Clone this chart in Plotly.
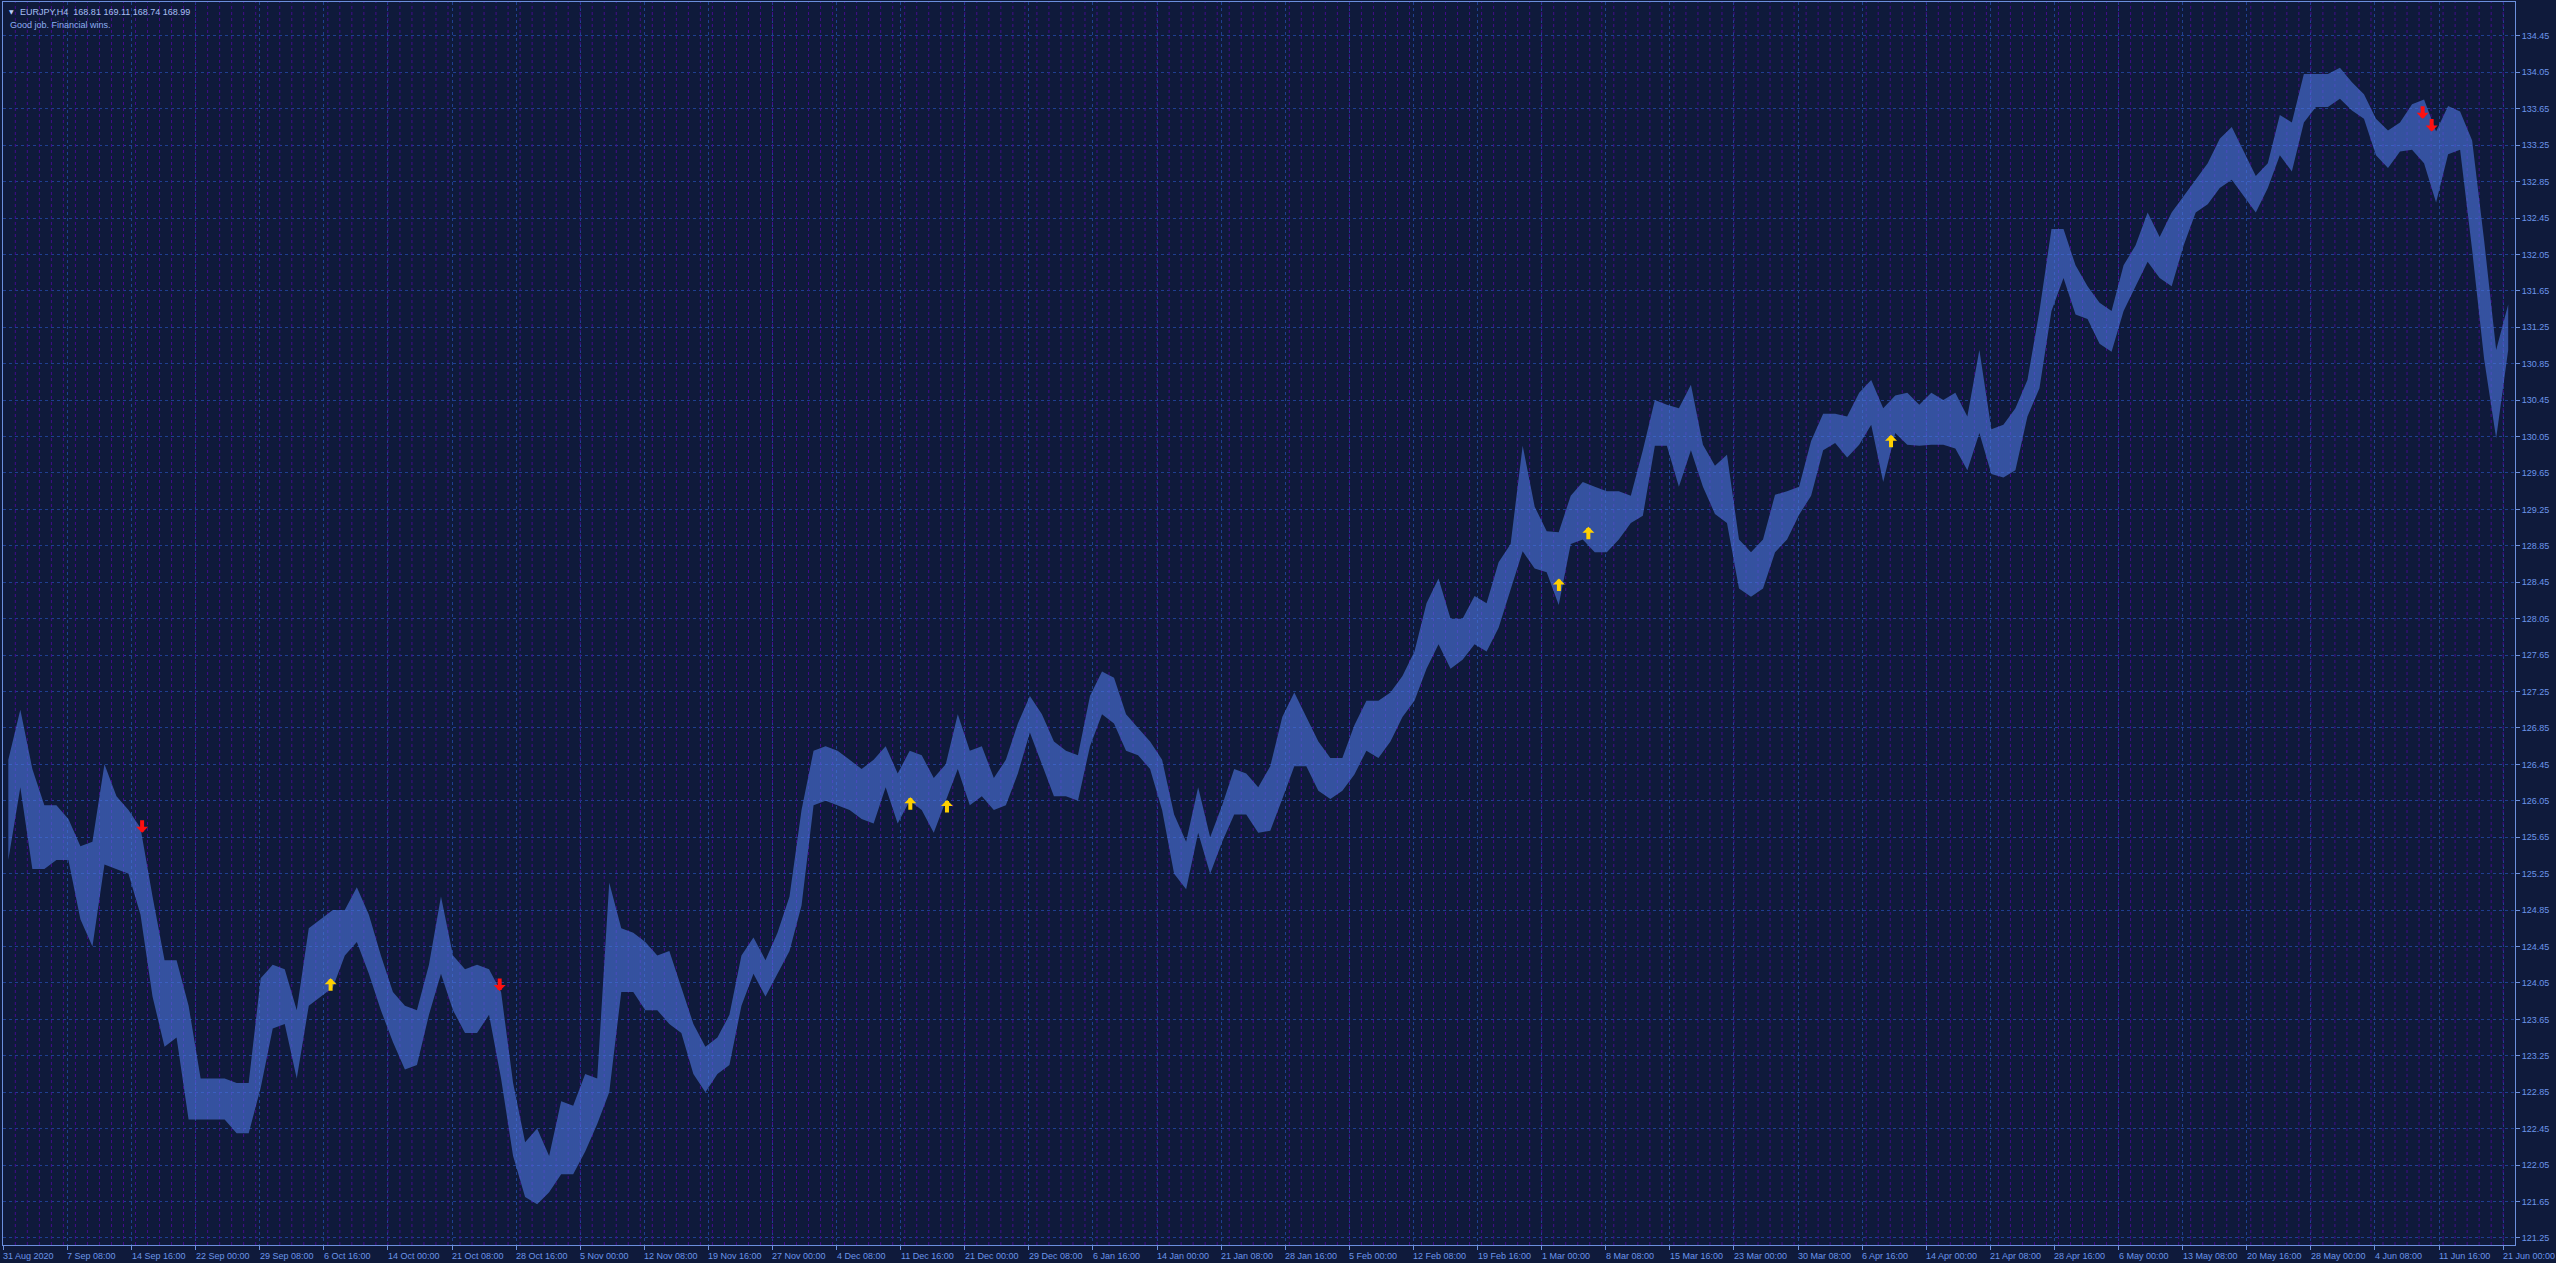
import plotly.graph_objects as go

# ---------------- data (EURJPY H4, read per trading day: high / low) ----------------
day_high = [
    126.5, 127.05, 126.4, 126.0, 126.0, 125.85, 125.55, 125.6, 126.45, 126.1,
    125.95, 125.75, 125.0, 124.3, 124.3, 123.8, 123.0, 123.0, 123.0, 122.95,
    122.95, 124.1, 124.25, 124.2, 123.75, 124.65, 124.75, 124.85, 124.85, 125.1,
    124.8, 124.35, 123.95, 123.8, 123.75, 124.25, 125.0, 124.35, 124.2, 124.25,
    124.2, 123.95, 122.95, 122.3, 122.45, 122.15, 122.75, 122.7, 123.05, 123.0,
    125.15, 124.65, 124.6, 124.5, 124.35, 124.4, 124.0, 123.6, 123.35, 123.45,
    123.7, 124.35, 124.55, 124.3, 124.6, 125.0, 125.95, 126.6, 126.65, 126.6,
    126.5, 126.4, 126.5, 126.65, 126.35, 126.6, 126.55, 126.3, 126.45, 127.0,
    126.6, 126.65, 126.3, 126.5, 126.9, 127.2, 127.0, 126.7, 126.6, 126.55,
    127.2, 127.47, 127.4, 127.0, 126.85, 126.7, 126.5, 125.9, 125.6, 126.2,
    125.65, 126.0, 126.4, 126.35, 126.2, 126.43, 126.97, 127.24, 126.97, 126.7,
    126.52, 126.52, 126.88, 127.15, 127.15, 127.24, 127.42, 127.69, 128.22, 128.49,
    128.05, 128.05, 128.3, 128.22, 128.67, 128.87, 129.95, 129.28, 129.01, 129.0,
    129.4, 129.55, 129.5, 129.45, 129.45, 129.4, 129.9, 130.45, 130.4, 130.36,
    130.62, 129.96, 129.73, 129.85, 128.92, 128.78, 128.92, 129.41, 129.45, 129.5,
    130.0, 130.3, 130.3, 130.27, 130.53, 130.67, 130.36, 130.5, 130.53, 130.4,
    130.53, 130.45, 130.53, 130.27, 131.0, 130.13, 130.18, 130.36, 130.67, 131.43,
    132.33, 132.33, 131.93, 131.7, 131.52, 131.43, 131.93, 132.15, 132.51, 132.24,
    132.51, 132.69, 132.87, 133.05, 133.32, 133.45, 133.18, 132.91, 133.05, 133.58,
    133.5, 134.03, 134.03, 134.03, 134.1, 133.94, 133.81, 133.54, 133.41, 133.5,
    133.7, 133.75, 133.4, 133.68, 133.62, 133.3, 132.2, 131.0, 131.5,
]
day_low = [
    125.4, 126.2, 125.3, 125.3, 125.4, 125.4, 124.75, 124.45, 125.35, 125.3,
    125.25, 124.8, 123.9, 123.35, 123.45, 122.55, 122.55, 122.55, 122.55, 122.4,
    122.4, 122.9, 123.55, 123.6, 123.0, 123.8, 123.9, 124.0, 124.35, 124.5,
    124.15, 123.75, 123.4, 123.1, 123.15, 123.7, 124.15, 123.75, 123.5, 123.5,
    123.7, 123.0, 122.15, 121.7, 121.62, 121.75, 121.95, 121.95, 122.2, 122.5,
    122.85, 123.95, 123.95, 123.75, 123.75, 123.6, 123.5, 123.05, 122.85, 123.05,
    123.15, 123.8, 124.15, 123.9, 124.15, 124.4, 124.9, 126.0, 126.05, 126.0,
    125.95, 125.85, 125.8, 126.2, 125.8, 126.05, 125.95, 125.7, 126.05, 126.4,
    126.0, 126.1, 125.95, 126.0, 126.35, 126.8, 126.45, 126.1, 126.1, 126.05,
    126.65, 127.0, 126.9, 126.6, 126.55, 126.4, 125.95, 125.25, 125.08, 125.7,
    125.25, 125.6, 125.9, 125.9, 125.7, 125.72, 126.07, 126.43, 126.43, 126.16,
    126.07, 126.16, 126.34, 126.6, 126.52, 126.7, 126.97, 127.15, 127.5, 127.77,
    127.5, 127.6, 127.77, 127.69, 127.95, 128.38, 128.79, 128.6, 128.56, 128.2,
    128.87, 128.92, 128.78, 128.78, 128.92, 129.1, 129.18, 129.95, 129.95, 129.5,
    129.9, 129.5, 129.2, 129.1, 128.38, 128.29, 128.38, 128.78, 128.92, 129.19,
    129.4, 129.9, 129.98, 129.82, 129.96, 130.18, 129.55, 130.09, 129.96, 129.95,
    129.96, 129.96, 129.92, 129.68, 130.09, 129.64, 129.6, 129.68, 130.27, 130.58,
    131.43, 131.79, 131.39, 131.34, 131.07, 130.98, 131.43, 131.7, 131.97, 131.79,
    131.7, 132.15, 132.51, 132.6, 132.78, 132.87, 132.69, 132.51, 132.78, 133.14,
    132.96, 133.5, 133.67, 133.67, 133.76, 133.63, 133.54, 133.14, 133.0, 133.18,
    133.2, 133.05, 132.62, 133.15, 133.2, 132.1, 130.9, 130.03, 131.0,
]
BARS_PER_DAY = 6

time_labels = [
    "31 Aug 2020", "7 Sep 08:00", "14 Sep 16:00", "22 Sep 00:00", "29 Sep 08:00",
    "6 Oct 16:00", "14 Oct 00:00", "21 Oct 08:00", "28 Oct 16:00", "5 Nov 00:00",
    "12 Nov 08:00", "19 Nov 16:00", "27 Nov 00:00", "4 Dec 08:00", "11 Dec 16:00",
    "21 Dec 00:00", "29 Dec 08:00", "6 Jan 16:00", "14 Jan 00:00", "21 Jan 08:00",
    "28 Jan 16:00", "5 Feb 00:00", "12 Feb 08:00", "19 Feb 16:00", "1 Mar 00:00",
    "8 Mar 08:00", "15 Mar 16:00", "23 Mar 00:00", "30 Mar 08:00", "6 Apr 16:00",
    "14 Apr 00:00", "21 Apr 08:00", "28 Apr 16:00", "6 May 00:00", "13 May 08:00",
    "20 May 16:00", "28 May 00:00", "4 Jun 08:00", "11 Jun 16:00", "21 Jun 00:00",
]
BARS_PER_LABEL = 32

price_ticks = [
    121.25, 121.65, 122.05, 122.45, 122.85, 123.25, 123.65, 124.05, 124.45,
    124.85, 125.25, 125.65, 126.05, 126.45, 126.85, 127.25, 127.65, 128.05,
    128.45, 128.85, 129.25, 129.65, 130.05, 130.45, 130.85, 131.25, 131.65,
    132.05, 132.45, 132.85, 133.25, 133.65, 134.05, 134.45,
]

# signal arrows (bar index, price at arrow tip)
up_bar = [163.4, 452.8, 471.1, 776.6, 791.3, 942.4]
up_price = [124.10, 126.09, 126.06, 128.49, 129.06, 130.07]
down_bar = [69.3, 247.8, 1207.8, 1212.3]
down_price = [125.70, 123.96, 133.54, 133.40]

header_line1 = "EURJPY,H4\u00a0\u00a0168.81 169.11 168.74 168.99"
header_line2 = "Good job. Financial wins."

# ---------------- style ----------------
BG = "#0f1a3b"
FRAME = "#6b8fdc"
GRID = "#1f3f8f"
SEP = "#450c8c"
BAR = "#4d76e2"
TXT = "#6b95ea"
FONT = "Liberation Sans"

W, H = 2556, 1263
X_MIN, X_MAX = -0.15, 1253.9
Y_MIN, Y_MAX = 121.172, 134.822

n_days = len(day_high)
x_day = [d * BARS_PER_DAY + (BARS_PER_DAY - 1) / 2 for d in range(n_days)]

fig = go.Figure()

# daily period separators (purple dashed)
sep_x, sep_y = [], []
for d in range(1, n_days):
    xs = d * BARS_PER_DAY
    sep_x += [xs, xs, None]
    sep_y += [Y_MIN, Y_MAX, None]
fig.add_trace(go.Scatter(
    x=sep_x, y=sep_y, mode="lines",
    line=dict(color=SEP, width=1, dash="3px,3px"),
    hoverinfo="skip", showlegend=False,
))

# price range band (daily low -> high), striped like dense H4 bars
fig.add_trace(go.Scatter(
    x=x_day, y=day_low, mode="lines", line=dict(width=0, color=BAR),
    hoverinfo="skip", showlegend=False,
))
fig.add_trace(go.Scatter(
    x=x_day, y=day_high, mode="lines", line=dict(width=0, color=BAR),
    fill="tonexty", fillcolor="rgba(0,0,0,0)",
    fillpattern=dict(shape="|", size=2, solidity=0.6, fgcolor=BAR,
                     bgcolor="rgba(0,0,0,0)", fillmode="replace"),
    hoverinfo="skip", showlegend=False,
))

annotations = []
# signal arrows
for xb, yp in zip(up_bar, up_price):
    annotations.append(dict(
        x=xb, y=yp, xref="x", yref="y", ax=0, ay=14, axref="pixel", ayref="pixel",
        showarrow=True, arrowhead=1, arrowsize=0.5, arrowwidth=4,
        arrowcolor="#ffd000", text="", standoff=0,
    ))
for xb, yp in zip(down_bar, down_price):
    annotations.append(dict(
        x=xb, y=yp, xref="x", yref="y", ax=0, ay=-14, axref="pixel", ayref="pixel",
        showarrow=True, arrowhead=1, arrowsize=0.5, arrowwidth=4,
        arrowcolor="#ff1010", text="", standoff=0,
    ))

# time labels (left-aligned at tick, MT4 style)
tick_bars = [i * BARS_PER_LABEL for i in range(len(time_labels))]
for xb, lab in zip(tick_bars, time_labels):
    annotations.append(dict(
        x=xb, y=0, xref="x", yref="paper", text=lab, showarrow=False,
        xanchor="left", yanchor="top", xshift=-2, yshift=-4,
        font=dict(family=FONT, size=9, color=TXT),
    ))

# header
annotations.append(dict(
    x=0, y=1, xref="paper", yref="paper", text="\u25bc", showarrow=False,
    xanchor="left", yanchor="top", xshift=4, yshift=-4,
    font=dict(family="DejaVu Sans", size=6, color="#b9cdf7"),
))
annotations.append(dict(
    x=0, y=1, xref="paper", yref="paper", text=header_line1, showarrow=False,
    xanchor="left", yanchor="top", xshift=15, yshift=-3,
    font=dict(family=FONT, size=9, color="#a6bff2"),
))
annotations.append(dict(
    x=0, y=1, xref="paper", yref="paper", text=header_line2, showarrow=False,
    xanchor="left", yanchor="top", xshift=5, yshift=-16,
    font=dict(family=FONT, size=9, color="#8eaef0"),
))

fig.update_layout(
    width=W, height=H,
    margin=dict(l=3, r=41, t=2, b=18, pad=0),
    paper_bgcolor=BG, plot_bgcolor=BG,
    showlegend=False, hovermode=False,
    annotations=annotations,
    font=dict(family=FONT, size=9, color=TXT),
)
fig.update_xaxes(
    range=[X_MIN, X_MAX], tickmode="array", tickvals=tick_bars,
    showticklabels=False, ticks="outside", ticklen=4, tickcolor=FRAME,
    showgrid=True, gridcolor=GRID, griddash="3px,3px", gridwidth=1,
    showline=True, linecolor=FRAME, linewidth=1, mirror=True, zeroline=False,
)
fig.update_yaxes(
    range=[Y_MIN, Y_MAX], side="right", tickmode="array", tickvals=price_ticks,
    ticktext=[f"{p:.2f}" for p in price_ticks],
    ticks="outside", ticklen=4, tickcolor=FRAME,
    tickfont=dict(family=FONT, size=9, color=TXT),
    showgrid=True, gridcolor=GRID, griddash="3px,3px", gridwidth=1,
    showline=True, linecolor=FRAME, linewidth=1, mirror=True, zeroline=False,
)

fig.write_html(
    "out.html",
    config={"displayModeBar": False, "staticPlot": True},
    post_script=(
        "document.documentElement.style.overflow='hidden';"
        "document.body.style.overflow='hidden';"
        "document.body.style.margin='0';"
    ),
)
